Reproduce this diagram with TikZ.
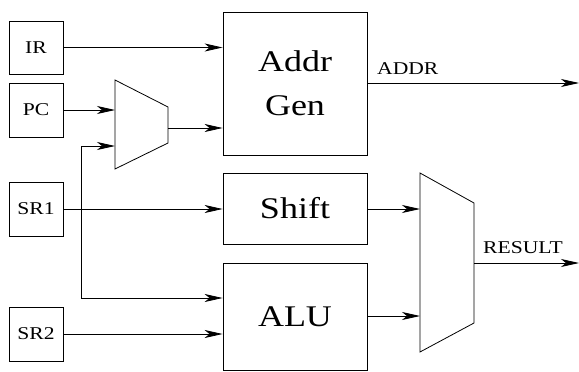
\documentclass[tikz,border=0pt]{standalone}
\usepackage{graphicx}
\usepackage{fontspec}
\setmainfont{Liberation Serif}
\usetikzlibrary{arrows.meta,calc}
\newcommand{\wtext}[1]{\scalebox{1.2}[1]{#1}}
\tikzset{
  sbox/.style={draw=black, line width=0.8pt, minimum width=54pt, minimum height=54pt, inner sep=0pt, font=\fontsize{18}{20}\selectfont},
  bbox/.style={draw=black, line width=0.8pt, minimum width=144pt, inner sep=0pt, align=center, font=\fontsize{30}{44}\selectfont},
  conn/.style={line width=0.8pt, -{Stealth[length=18pt,width=8pt,inset=5pt]}},
  muxshape/.style={line width=0.8pt, line join=miter},
  lbl/.style={inner sep=0pt, font=\fontsize{18}{20}\selectfont}
}
\begin{document}
\begin{tikzpicture}[x=1pt,y=-1pt]
\useasboundingbox (0,0) rectangle (579,372);
% source registers
\node[sbox, minimum height=53pt] (ir) at (36,47.5) {\wtext{IR}};
\node[sbox] (pc) at (36,110) {\wtext{PC}};
\node[sbox] (sr1) at (36,209) {\wtext{SR1}};
\node[sbox] (sr2) at (36,334) {\wtext{SR2}};
% big blocks
\node[bbox, minimum height=143pt] (addr) at (295,83.5) {\wtext{Addr}\\\wtext{Gen}};
\node[bbox, minimum height=71pt] (shift) at (295,208.5) {\wtext{Shift}};
\node[bbox, minimum height=107pt] (alu) at (295,316.5) {\wtext{ALU}};
% mux 1
\coordinate (m1a) at (115,80);
\coordinate (m1b) at (168,107);
\coordinate (m1c) at (168,143);
\coordinate (m1d) at (115,169);
\draw[muxshape] (m1a) -- (m1b) -- (m1c) -- (m1d) -- cycle;
\coordinate (m1in1) at (115,110);
\coordinate (m1in2) at (115,146);
\coordinate (m1out) at (168,128);
% mux 2
\coordinate (m2a) at (420,173);
\coordinate (m2b) at (474,203);
\coordinate (m2c) at (474,323);
\coordinate (m2d) at (420,352);
\draw[muxshape] (m2a) -- (m2b) -- (m2c) -- (m2d) -- cycle;
\coordinate (m2in1) at (420,209);
\coordinate (m2in2) at (420,316);
\coordinate (m2out) at (474,263);
% outputs
\coordinate (addrend) at (579,83);
\coordinate (resend) at (579,263);
\coordinate (vsplit) at (81,220);
% connectors
\draw[conn] (ir.east) -- (ir.east -| addr.west);
\draw[conn] (pc.east) -- (m1in1);
\draw[conn] (m1out) -- (m1out -| addr.west);
\draw[conn] (vsplit) |- (m1in2);
\draw[conn] (vsplit) |- ($(alu.west)+(0,-18.5)$);
\draw[conn] (sr1.east) -- (sr1.east -| shift.west);
\draw[conn] (sr2.east) -- (sr2.east -| alu.west);
\draw[conn] (shift.east |- m2in1) -- (m2in1);
\draw[conn] (alu.east |- m2in2) -- (m2in2);
\draw[conn] (addr.east |- addrend) -- (addrend);
\draw[conn] (m2out) -- (resend);
% labels
\node[lbl, anchor=base west] (addrlbl) at (377,74) {\wtext{ADDR}};
\node[lbl, anchor=base west] (reslbl) at (483,253) {\wtext{RESULT}};
\end{tikzpicture}
\end{document}
